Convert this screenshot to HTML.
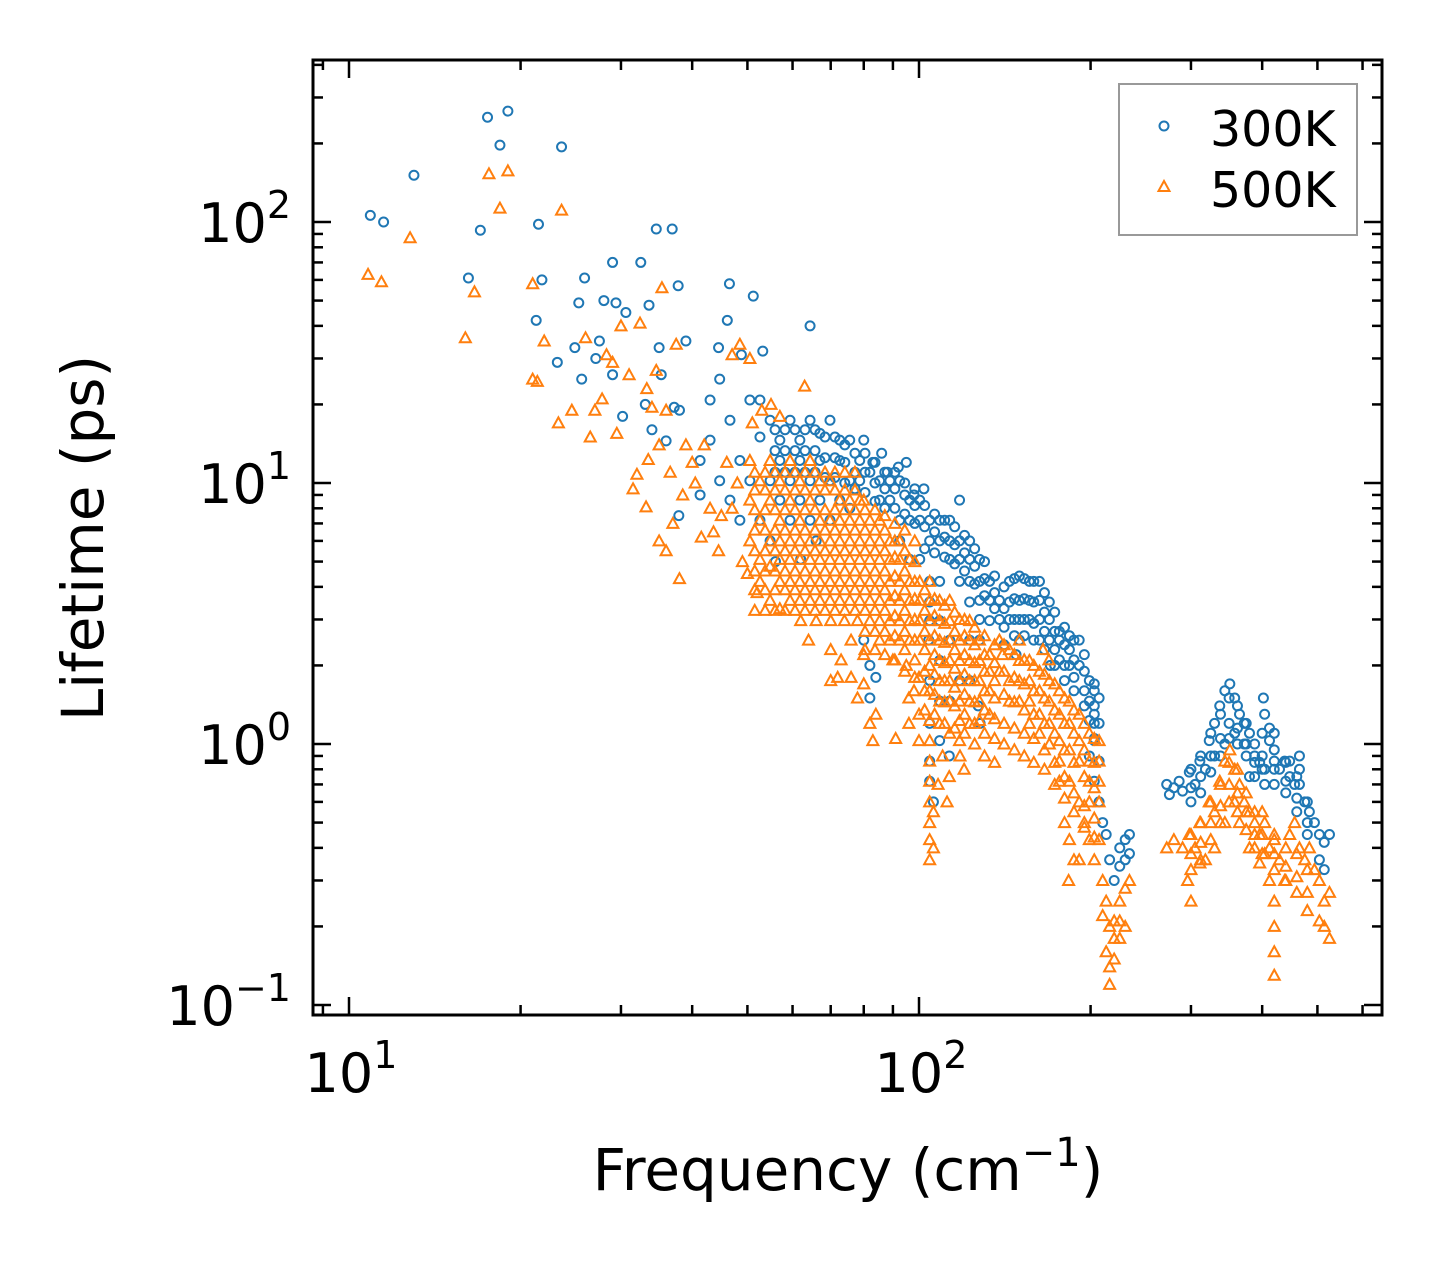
<!DOCTYPE html>
<html><head><meta charset="utf-8"><style>
html,body{margin:0;padding:0;background:#fff;}
svg text{font-family:"DejaVu Sans","Liberation Sans",sans-serif;fill:#000;}
</style></head><body>
<svg id="chart" width="1442" height="1265" viewBox="0 0 1442 1265" xmlns="http://www.w3.org/2000/svg">
<rect x="0" y="0" width="1442" height="1265" fill="#fff"/>
<g id="marks"></g>
<g id="axes"></g>
<text x="848" y="1190" font-size="58" text-anchor="middle">Frequency (cm<tspan dy="-24" font-size="40">−1</tspan><tspan dy="24">)</tspan></text>
<text transform="translate(103,538) rotate(-90)" font-size="58" text-anchor="middle">Lifetime (ps)</text>
<g>
<rect x="1119" y="84" width="238" height="151" fill="#fff" stroke="#999" stroke-width="2"/>
<circle cx="1164" cy="126" r="4.5" fill="none" stroke="#1f77b4" stroke-width="2"/>
<text x="1210" y="146" font-size="49">300K</text>
<polygon points="1164,181 1158.5,191 1169.5,191" fill="none" stroke="#ff7f0e" stroke-width="2"/>
<text x="1210" y="207" font-size="49">500K</text>
</g>
</svg>
<script>
const blueFreq = [10.9,11.5,13.0,17.0,17.5,18.4,19.0,23.6,21.5,16.2,21.3,21.8,25.9,29.0,32.5,34.6,36.9,37.8,46.5,51.2,64.4,25.3,28.0,29.4,30.6,33.6,23.2,24.9,27.5,27.1,25.6,29.0,30.2,35.3,35.0,39.0,46.1,48.8,53.2,37.2,38,37.9,36,33.1,34,44.5,
41.3,43,44.7,46.6,48.5,50.5,52.6,43,46.6,48.5,50.5,52.6,41.3,44.7,52.6,
54.8,57,59.4,61.8,64.4,67,69.8,72.6,75.6,78.7,57,61.8,67,72.6,78.7,54.8,59.4,64.4,69.8,75.6,57,61.8,67,72.6,54.8,59.4,64.4,69.8,75.6,62,66,56,80,83,86,82,
85.3,88.9,92.5,96.3,100.3,104.4,108.7,85.3,88.9,92.5,96.3,100.3,104.4,108.7,92.5,96.3,100.3,104.4,108.7,104.4,104.4,104,104.4,104.4,104.4,104.4,106,108.7,108.7,108.7,108.7,113.2,113,113.2,82,82,84,80,88,92,95,98,102,
113.2,117.8,117.8,122.7,127.7,113.2,117.8,122.7,127.7,133,138.4,113.2,117.8,122.7,127.7,133,138.4,122.7,127.7,133,127.7,122.7,117.8,122.7,127,128,
144.1,150,156.2,162.7,169.3,176.3,183.6,191,144.1,150,156.2,162.7,169.3,176.3,183.6,144.1,150,156.2,162.7,169.3,176.3,183.6,191,150,162.7,148,170,
199,203,207,199,203,207,199,203,207,203,207,199,210,213,216,220,225,230,234,225,230,234,
272,280,286,298,311,323,330,337,344,351,358,365,372,380,275,290,305,318,330,344,358,372,388,396,404,412,420,429,438,447,456,465,475,484,494,504,514,525,504,514,380,404,420,402,404,412,465,465,447];
const blueLife = [106,100,151,93,252,197,266,194,98,61,42,60,61,70,70,94,94,57,58,52,40,49,50,49,45,48,29,33,35,30,25,26,18,26,33,35,42,31,32,19.5,19,7.5,14.5,20,16,33,
12.2,14.6,10.2,17.4,12.2,20.8,15,20.8,8.6,7.2,10.2,7.2,9,25,20.8,
17.4,14.6,17.4,14.6,17.4,15.5,17.4,14.6,14.6,12.2,12.2,12.2,12.2,12.2,10.2,10.2,10.2,10.2,10.2,10.2,8.6,8.6,8.6,8.6,6,7.2,7.2,7.2,8,5.1,6,5,14.6,12,13,11,
10.2,10.2,10.2,8.6,8.6,7.2,7.2,8.6,8.6,7.2,7.2,7.2,6,6,6,5.1,5.1,4.2,4.2,3.5,2.97,2.5,1.75,1.2,0.86,0.72,0.6,1.03,1.46,2.09,2.97,2.5,0.9,1.46,2,1.5,1.8,2.5,11,11.5,12,9,9.5,
7.2,6,8.6,6,5.1,6,5.1,5.1,4.2,4.2,3.55,5.1,4.2,4.2,3.55,3.55,3,3.5,3,2.97,2.5,2.5,1.75,1.75,1.4,1.2,
4.2,4.4,4.2,4.2,3.5,2.7,2.6,2.5,3.5,3.55,3.55,3.55,3,2.5,2.3,3,3,3,3,2.5,2.1,2,2,2.5,2.5,2.2,2,
1.75,1.6,1.5,1.46,1.3,1.2,1.23,1.03,0.86,0.72,0.6,0.9,0.5,0.45,0.36,0.3,0.4,0.43,0.45,0.34,0.36,0.38,
0.7,0.68,0.72,0.78,0.86,1.03,1.2,1.4,1.6,1.7,1.5,1.3,1.2,1.1,0.64,0.66,0.7,0.8,0.9,1,1.1,1,0.9,0.85,0.8,1.03,0.86,0.8,0.86,0.86,0.7,0.7,0.6,0.55,0.5,0.45,0.42,0.45,0.36,0.33,0.75,0.7,1.1,1.5,1.3,1.15,0.8,0.9,0.75];
const orangeFreq = [10.8,11.4,12.8,16,16.6,17.6,18.4,19,21,21.4,21,22,23.6,23.3,24.6,26,26.5,27,27.8,28.3,29,29.5,30,31,32.4,32,31.5,33.2,33.3,33.5,34,34.6,35,35,35.4,36,36.6,37.5,38,38.5,37,36,39,40,40.5,41.5,42,43,43.6,44.5,45,46,47,48,48.5,49,47,50.5,51,53,55,57,63,50,52,
50.5,52.6,54.8,57,59.4,61.8,64.4,67,69.8,72.6,75.6,78.7,
50.5,52.6,54.8,57,59.4,61.8,64.4,67,69.8,72.6,75.6,78.7,
50.5,52.6,54.8,57,59.4,61.8,64.4,67,69.8,72.6,75.6,78.7,
52.6,54.8,57,59.4,61.8,64.4,67,69.8,72.6,75.6,78.7,
54.8,57,59.4,61.8,64.4,67,69.8,72.6,75.6,78.7,
57,59.4,61.8,64.4,67,69.8,72.6,75.6,78.7,
62,66,70,74,78,64,70,76,72,73,78,80,82,83,84,76,80,70,
82,85.3,88.9,92.5,96.3,100.3,82,85.3,88.9,92.5,96.3,100.3,82,85.3,88.9,92.5,96.3,100.3,82,85.3,88.9,92.5,96.3,100.3,82,85.3,88.9,92.5,96.3,82,85.3,88.9,92.5,85.3,90,95,98,100,96,100,80,
104.4,108.7,113.2,117.8,122.7,127.7,133,104.4,108.7,113.2,117.8,122.7,127.7,133,104.4,108.7,113.2,117.8,122.7,127.7,133,104.4,108.7,113.2,117.8,122.7,127.7,133,104.4,108.7,113.2,117.8,122.7,127.7,104.4,108.7,113.2,117.8,122.7,104.4,108.7,113.2,117.8,104.4,104.4,104.4,104.4,104.4,104.4,104.4,106,106,108,110,113,118,120,112,100,96,91,
138.4,144.1,150,156.2,162.7,169.3,176.3,183.6,191,199,207,138.4,144.1,150,156.2,162.7,169.3,176.3,183.6,191,199,207,144.1,150,156.2,162.7,169.3,176.3,183.6,191,199,207,156.2,162.7,169.3,176.3,183.6,191,199,207,176.3,180,183.6,187,183,191,195,199,203,207,150,140,169,165,
210,213,216,220,213,216,216,220,225,230,234,225,230,225,210,220,
272,280,290,298,305,311,318,323,330,337,344,351,358,365,372,380,388,396,404,412,420,429,438,447,456,465,475,484,494,504,514,525,504,514,525,420,420,420,420,412,330,344,358,365,311,300,296,380,396,404];
const orangeLife = [63,59,87,36,54,153,113,157,58,24.5,25,35,111,17,19,36,15,19,21,31,29,15.5,40,26,41,10.8,9.5,8.1,23,12.3,19.5,27,14,6,56,19,11,34,4.3,9,7,5.5,14,12,10,6.2,14,8,6.5,5.5,7.5,12,8,10,34,5,31,30,17,19,20,18,23.5,4.5,3.8,
12.2,10.2,12.2,10.2,12.2,10.2,12.2,10.2,10.2,8.6,8.6,8.6,
8.6,7.2,8.6,7.2,8.6,7.2,8.6,7.2,7.2,7.2,7.2,7.2,
6,5.1,6,6,6,6,6,6,6,6,6,6,
4.2,4.8,5.1,5.1,5.1,5.1,5.1,5.1,5.1,5.1,5.1,
3.55,4.2,4.2,4.2,4.2,4.2,4.2,4.2,4.2,4.2,
3.3,3.55,3.55,3.55,3.55,3.55,3.55,3.55,3.55,
2.97,2.97,2.97,2.97,2.97,2.5,2.3,2.5,1.8,2.1,1.5,1.7,1.2,1.03,1.3,1.8,2.2,1.75,
7.2,7.2,6,6,5.1,4.2,6,6,5.1,5.1,4.2,3.55,5.1,5.1,4.2,4.2,3.55,2.97,4.2,4.2,3.55,3.55,2.97,2.5,3.55,3.55,2.97,2.97,2.5,2.97,2.97,2.5,2.5,2.5,2.1,2,1.6,1.3,1.5,1.8,8.6,
4.2,3.55,3.55,3,2.97,2.5,2.2,3.55,2.97,2.97,2.5,2.5,2.09,1.9,2.97,2.5,2.5,2.09,2.09,1.75,1.6,2.5,2.09,2.09,1.75,1.75,1.46,1.3,2,1.75,1.75,1.46,1.46,1.23,1.6,1.46,1.46,1.23,1.2,1.23,1.2,1.1,1.03,1.03,0.86,0.72,0.6,0.5,0.43,0.36,0.4,0.55,0.7,0.9,0.75,0.9,0.8,0.6,1.03,1.2,1.05,
2.5,2.3,2.09,2.09,1.9,1.75,1.6,1.46,1.3,1.1,1.03,1.9,1.75,1.75,1.75,1.6,1.46,1.3,1.2,1.03,0.86,0.86,1.46,1.46,1.46,1.3,1.2,1.03,0.95,0.86,0.72,0.72,1.2,1.1,1,0.86,0.72,0.6,0.6,0.6,0.72,0.5,0.43,0.36,0.3,0.36,0.5,0.43,0.36,0.43,2.5,2.2,2.1,2.3,
0.3,0.25,0.2,0.18,0.16,0.14,0.12,0.21,0.25,0.28,0.3,0.21,0.2,0.18,0.22,0.15,
0.4,0.43,0.4,0.45,0.4,0.5,0.36,0.6,0.55,0.72,0.86,0.95,0.8,0.7,0.6,0.55,0.5,0.45,0.5,0.4,0.43,0.36,0.3,0.45,0.5,0.4,0.36,0.4,0.33,0.3,0.25,0.27,0.21,0.2,0.18,0.25,0.2,0.16,0.13,0.3,0.4,0.5,0.6,0.5,0.35,0.25,0.3,0.4,0.35,0.38];

// dense bands: each grid has frequencies, and rows of lifetimes (one per frequency)
const blueGridA = [55.9,58.2,60.6,63.1,65.7,68.4,71.2,74.1,77.2,80.4,83.7,87.1,90.7,94.4,98.3];
const blueRowsA = [[16,16,16,16,16,15,15,14,13,13,12,11,11,10,9.5],[13.3,13.3,13.3,13.3,13.3,12.5,12.5,12,11,11,10,9.5,9.5,9,8.2],[11,11,11,11,11,10.5,10.5,10,9.5,9.2,8.5,8,8,7.6,7]];
const blueGridB = [102.3,106.5,110.9,115.5,120.2,125.2,130.3,135.7];
const blueRowsB = [[8.2,7.6,7.2,6.8,6.3,5.6,5.0,4.4],[6.8,6.5,6.2,5.8,5.4,4.8,4.3,3.8],[5.6,5.4,5.2,4.9,4.6,4.1,3.7,3.3]];
const blueGridC = [141,147,153,159,166,173,180,187,195,203];
const blueRowsC = [[4.0,4.3,4.3,4.2,3.8,3.2,2.8,2.5,2.2,1.7],[3.3,3.6,3.6,3.5,3.2,2.7,2.4,2.1,1.9,1.4],[2.8,3.0,3.0,2.9,2.7,2.3,2.0,1.8,1.6,1.2],[2.4,2.6,2.6,2.5,2.3,2.0,1.75,1.6,1.4,1.05]];
const blueGridD = [300,312,325,338,350,362,375,388,400,420,440,460,480];
const blueRowsD = [[0.8,0.9,1.1,1.3,1.5,1.4,1.2,1.0,1.1,0.95,0.85,0.75,0.6],[0.68,0.75,0.9,1.05,1.2,1.15,1.0,0.85,0.9,0.8,0.72,0.62,0.5],[0.6,0.65,0.78,0.9,1.05,1.0,0.9,0.75,0.8,0.7,0.65,0.55,0.45]];
const orangeGridE = [51.5,53.7,55.9,58.2,60.6,63.1,65.7,68.4,71.2,74.1,77.2];
const orangeRowsE = [[11,11,11,11,11,11,11,11,11,11,11],[9.4,9.4,9.4,9.4,9.4,9.4,9.4,9.4,9.4,9.4,9.4],[7.9,7.9,7.9,7.9,7.9,7.9,7.9,7.9,7.9,7.9,7.9],[6.6,6.6,6.6,6.6,6.6,6.6,6.6,6.6,6.6,6.6,6.6],[5.5,5.5,5.5,5.5,5.5,5.5,5.5,5.5,5.5,5.5,5.5],[4.6,4.6,4.6,4.6,4.6,4.6,4.6,4.6,4.6,4.6,4.6],[3.9,3.9,3.9,3.9,3.9,3.9,3.9,3.9,3.9,3.9,3.9],[3.25,3.25,3.25,3.25,3.25,3.25,3.25,3.25,3.25,3.25,3.25]];
const orangeGridF = [80.4,83.7,87.1,90.7,94.4,98.3];
const orangeRowsF = [[7.9,7.9,7.5,7,6.6,6],[6.6,6.6,6.6,6,5.5,5],[5.5,5.5,5.5,5.2,4.6,4.2],[4.6,4.6,4.6,4.4,3.9,3.6],[3.9,3.9,3.9,3.7,3.25,3],[3.25,3.25,3.25,3.1,2.7,2.5],[2.7,2.7,2.7,2.6,2.3,2.1],[2.3,2.3,2.2,2.1,1.9,1.8]];
const orangeGridG = [102.3,106.5,110.9,115.5,120.2,125.2,130.3,135.7];
const orangeRowsG = [[3.9,3.6,3.4,3.2,3,2.8,2.6,2.4],[3.25,3.1,2.9,2.7,2.6,2.4,2.2,2.05],[2.7,2.6,2.45,2.3,2.2,2.05,1.9,1.75],[2.3,2.2,2.05,1.95,1.85,1.75,1.6,1.5],[1.9,1.85,1.75,1.65,1.55,1.45,1.35,1.25],[1.6,1.55,1.45,1.4,1.3,1.2,1.1,1.05],[1.35,1.3,1.2,1.15,1.1,1.0,0.9,0.85]];
const orangeGridH = [141,147,153,159,166,173,180,187,195,203];
const orangeRowsH = [[2.4,2.2,2.1,2.0,1.85,1.7,1.5,1.35,1.2,1.05],[1.9,1.8,1.7,1.6,1.5,1.35,1.2,1.1,0.95,0.85],[1.55,1.45,1.35,1.3,1.2,1.1,0.95,0.85,0.75,0.68],[1.2,1.15,1.1,1.05,0.95,0.85,0.75,0.65,0.58,0.52],[1.0,0.95,0.9,0.85,0.8,0.7,0.62,0.55,0.48,0.44]];
const orangeGridI = [300,312,325,338,350,362,375,388,400,420,440,460,480];
const orangeRowsI = [[0.45,0.5,0.6,0.7,0.85,0.8,0.65,0.55,0.55,0.45,0.4,0.38,0.33],[0.38,0.42,0.5,0.58,0.7,0.65,0.55,0.45,0.45,0.38,0.34,0.31,0.27],[0.33,0.36,0.43,0.5,0.6,0.55,0.47,0.4,0.38,0.33,0.3,0.27,0.23]];

const xMajorTicks = [10,100];
const xTickLabels = ["1","2"];
const yMajorTicks = [0.1,1,10,100];
const yTickLabels = ["−1","0","1","2"];

const NS = "http://www.w3.org/2000/svg";
const L=313,R=1382,T=60,B=1015;
function xs(f){return 349+570*Math.log10(f/10);}
function ys(v){return 744-261*Math.log10(v);}
function mk(tag,attrs,parent){const e=document.createElementNS(NS,tag);for(const k in attrs)e.setAttribute(k,attrs[k]);parent.appendChild(e);return e;}
const marks=document.getElementById('marks');
const axes=document.getElementById('axes');

function gridPairs(grid,rows){const out=[];rows.forEach(r=>r.forEach((v,i)=>out.push([grid[i],v])));return out;}
const bluePts=blueFreq.map((f,i)=>[f,blueLife[i]])
  .concat(gridPairs(blueGridA,blueRowsA),gridPairs(blueGridB,blueRowsB),gridPairs(blueGridC,blueRowsC),gridPairs(blueGridD,blueRowsD));
const orangePts=orangeFreq.map((f,i)=>[f,orangeLife[i]])
  .concat(gridPairs(orangeGridE,orangeRowsE),gridPairs(orangeGridF,orangeRowsF),gridPairs(orangeGridG,orangeRowsG),gridPairs(orangeGridH,orangeRowsH),gridPairs(orangeGridI,orangeRowsI));

const gB=mk('g',{},marks);


bluePts.forEach(p=>{
  const c=mk('circle',{cx:xs(p[0]),cy:ys(p[1]),r:4.5,fill:'none',stroke:'#1f77b4','stroke-width':2},gB);
  
  
});
const gO=mk('g',{},marks);


orangePts.forEach(p=>{
  const x=xs(p[0]),y=ys(p[1]);
  const t=mk('polygon',{points:`${x},${y-5.5} ${x-5.5},${y+4.5} ${x+5.5},${y+4.5}`,fill:'none',stroke:'#ff7f0e','stroke-width':2},gO);
  
  
});
const tk={stroke:'#000','stroke-width':2.5};
const xMinor=[];for(let e=0;e<3;e++)for(let m=2;m<10;m++)xMinor.push(m*Math.pow(10,e));
xMinor.forEach(f=>{const x=xs(f);if(x<L||x>R)return;
  const a=mk('line',Object.assign({x1:x,x2:x,y1:B,y2:B-10},tk),axes);
  
  
  const b=mk('line',Object.assign({x1:x,x2:x,y1:T,y2:T+10},tk),axes);
  
  });
xMajorTicks.forEach((f,i)=>{const x=xs(f);
  const a=mk('line',Object.assign({x1:x,x2:x,y1:B,y2:B-18},tk),axes);
  
  
  const b=mk('line',Object.assign({x1:x,x2:x,y1:T,y2:T+18},tk),axes);
  
  
  const t=mk('text',{x:x+2,y:1092,'font-size':54,'text-anchor':'middle'},axes);
  
  
  t.innerHTML='10<tspan dy="-24" font-size="38">'+xTickLabels[i]+'</tspan>';});
const yMinor=[];for(let e=-2;e<3;e++)for(let m=2;m<10;m++)yMinor.push(m*Math.pow(10,e));
yMinor.forEach(v=>{const y=ys(v);if(y<T||y>B)return;
  const a=mk('line',Object.assign({x1:L,x2:L+10,y1:y,y2:y},tk),axes);
  
  
  const b=mk('line',Object.assign({x1:R,x2:R-10,y1:y,y2:y},tk),axes);
  
  });
yMajorTicks.forEach((v,i)=>{const y=ys(v);
  const a=mk('line',Object.assign({x1:L,x2:L+18,y1:y,y2:y},tk),axes);
  
  
  const b=mk('line',Object.assign({x1:R,x2:R-18,y1:y,y2:y},tk),axes);
  
  
  const t=mk('text',{x:291,y:y+20,'font-size':54,'text-anchor':'end'},axes);
  
  
  t.innerHTML='10<tspan dy="-24" font-size="38">'+yTickLabels[i]+'</tspan>';});
const fr=mk('rect',{x:L,y:T,width:R-L,height:B-T,fill:'none',stroke:'#000','stroke-width':3},axes);


</script>
</body></html>
